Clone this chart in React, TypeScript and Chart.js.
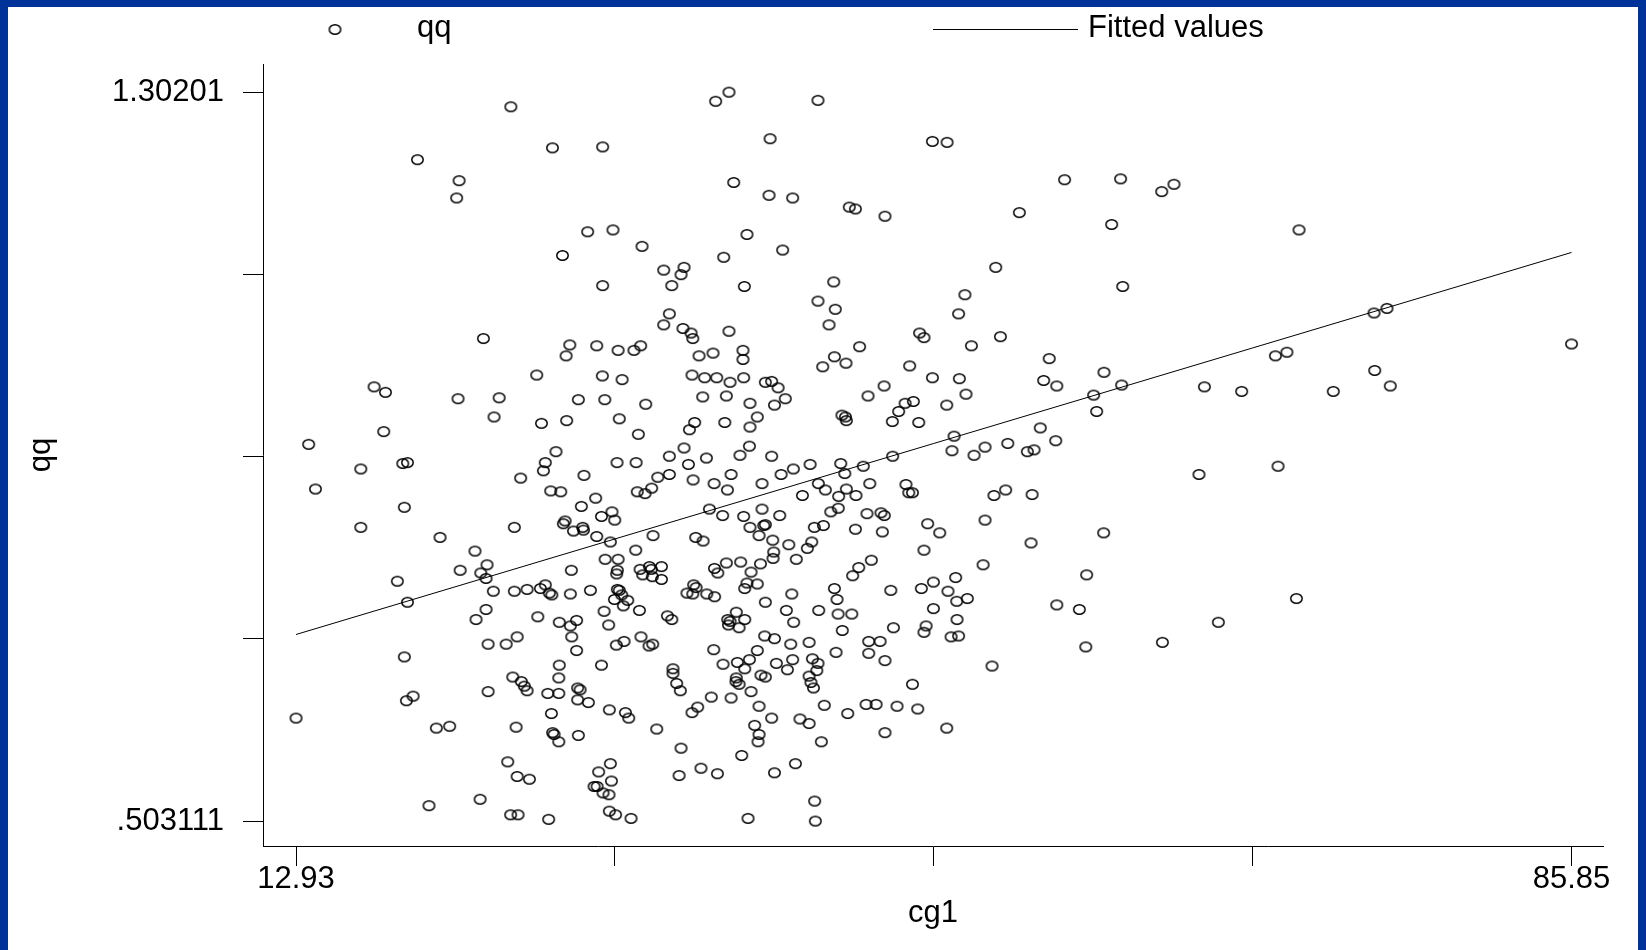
import React, { useEffect, useRef } from "react";
import { Chart, registerables } from "chart.js";

Chart.register(...registerables);

// ---- data ----
const cg1 = [
  // upper left
  25.21, 19.87, 22.25, 22.11, 27.59, 30.46, 29.6, 31.05, 32.71, 28.16, 33.95, 35.11, 34.94, 34.41, 30.46, 34.27,
  // upper middle
  36.92, 37.68, 42.77, 40.03, 49.31, 50.15, 37.95, 39.97, 41.32, 44.56, 44.91, 46.6, 54.28, 56.87, 60.07, 59.56,
  38.71, 37.38, 40.75, 52.93, 60.19, 38.56, 43.67, 42.77, 43.76, 51.17, 50.81,
  // upper right
  62.42, 63.12, 70.27, 74.56, 75.3,
  // middle left
  33.95, 35.05, 35.51, 35.61, 23.64, 28.58, 28.37, 30.12, 31.34, 32.25, 32.63, 35.97, 26.69, 30.44, 31.57, 35.57,
  36.29, 17.39, 18.04, 22.19, 24.54, 24.25, 29.07, 30.58, 32.92, 36.18, 17.94, 26.96, 28.4, 31.41, 32.5, 35.72,
  35.42, 13.65, 27.79, 27.18, 27.07, 16.63, 19.03, 19.3, 31.28, 32.37, 34.27, 35.11, 35.36, 14.04, 25.77, 29.39,
  27.49, 28.06, 32.44, 32.88, 33.26, 33.61, 34.27, 35.63, 19.12, 30.06, 29.24, 16.63, 25.41, 21.16, 28.31, 28.21,
  28.79, 29.32, 29.36, 30.39, 30.99, 31.15, 30.12, 30.9, 33.34, 35.78, 36.2, 23.16, 23.85, 22.31, 23.49, 23.79,
  32.35, 28.67, 30.6, 31.34, 31.3, 31.26, 32.6, 33.13, 33.24, 33.82, 32.75, 33.3, 33.82,
  // middle
  37.68, 43.4, 48.58, 48.83, 53.2, 36.77, 38.48, 38.48, 45.15, 51.54, 36.98, 43.04, 43.71, 44.37, 48.01, 55.99,
  59.12, 37.74, 38.52, 39.76, 40.12, 40.49, 40.9, 40.28, 37.53, 38.88, 39.3, 37.44, 38.88, 45.63, 46.55, 49.31,
  50.85, 51.23, 50.13, 55.67, 56.42, 58.53, 60.13, 58.7, 44.14, 44.34, 44.39, 47.38, 47.75, 48.22, 47.02, 48.53,
  55.48, 50.55, 50.43, 51.69, 52.32, 53.62, 54.74, 55.12, 56.36, 36.39, 38.31, 38.85, 40.12, 37.8, 36.83, 37.59,
  39.57, 40.66, 41.36, 42.32, 44.07, 44.3, 45.36, 47.04, 42.79, 43.19, 44.39, 43.95, 44.94, 45.73, 41.88, 47.8,
  47.96, 48.17, 52.83, 53.5, 55.01, 36.56, 37.32, 38.52, 39.57, 40.58, 38.88, 39.76, 39.67, 39.4, 43.5, 43.93,
  42.56, 43.08, 45.57, 46.37, 46.56, 44.91, 46.45, 49.04, 49.73, 52.32, 59.1, 40.18, 41.1, 42.41, 42.16, 40.24,
  40.2, 41.53, 45.82, 45.1, 44.75, 48.83, 54.95, 52.21, 58.13, 37.53, 38.35, 39.48, 36.85, 37.04, 38.94, 50.64,
  // middle right
  68.92, 69.58, 64.86, 66.99, 72.23, 74.6, 75.49, 85.85, 64.55, 69.07,
  // lower left
  18.72, 24.21, 25.41, 26.14, 26.9, 27.18, 27.41, 27.55, 28.61, 29.76, 31.3, 31.41, 31.55, 31.13, 31.89, 31.64,
  32.56, 30.54, 30.8, 35.66, 35.8, 35.28, 35.61, 19.3, 23.79, 23.22, 26.75, 27.98, 28.61, 28.97, 34.16, 34.41,
  23.91, 24.94, 25.57, 28.69, 28.97, 31.24, 31.68, 32.65, 33.11, 33.32, 19.12, 27.98, 27.95, 30.39, 34.48, 34.48,
  34.69, 34.9, 25.32, 25.81, 25.98, 26.14, 23.91, 27.32, 27.95, 29.03, 29.17, 29.03, 29.64, 19.24, 19.62, 30.84,
  31.76, 31.95, 33.55, 35.57, 35.89, 12.93, 20.95, 21.71, 25.51, 27.53, 27.6, 27.68, 27.95, 29.07, 34.94, 25.03,
  25.57, 26.27, 30.9, 30.23, 30.96, 29.97, 30.14, 30.48, 30.82, 34.83, 36.08, 20.53, 23.45, 25.2, 25.62, 27.37,
  30.84, 31.2, 32.08,
  // lower middle
  38.71, 39.3, 38.58, 36.41, 36.86, 41.27, 39.76, 40.96, 41.38, 42.81, 43.71, 43.86, 43.92, 44.7, 44.16, 46.93,
  48.68, 49.37, 50.2, 50.7, 51.31, 49.37, 47.08, 48.95, 48.83, 50.72, 50.38, 50.81, 56.42, 57.71, 58.08, 38.1,
  37.61, 37.74, 37.65, 38.26, 38.58, 39.72, 40.28, 41.21, 42.26, 36.81, 39.3, 43.8, 45.67, 46.32, 45.67, 46.6,
  37.34, 38.16, 38.85, 38.58, 40.39, 41.32, 41.02, 42.45, 42.77, 42.7, 42.26, 42.37, 42.51, 39.51, 39.76, 38.1,
  38.08, 38.26, 38.94, 36.67, 37.8, 39.4, 40.12, 41.74, 42.26, 43.13, 44.47, 45.52, 46.09, 47.29, 48.47, 48.17,
  52.72, 39.15, 39.4, 39.34, 42.96, 46.6, 50.13, 38.41, 37.02, 40.28, 41.48, 42.58, 38.77, 42.62,
  // lower right
  70.12, 65.66, 62.46,
];

const qq = [
  // upper left
  1.286, 1.228, 1.205, 1.186, 1.241, 1.242, 1.149, 1.151, 1.133, 1.123, 1.107, 1.11, 1.102, 1.09, 1.09, 1.059,
  // upper middle
  1.292, 1.30201, 1.293, 1.251, 1.248, 1.247, 1.203, 1.189, 1.186, 1.176, 1.174, 1.166, 1.17, 1.206, 1.207, 1.157,
  1.146, 1.121, 1.129, 1.11, 1.089, 1.089, 1.094, 1.073, 1.064, 1.08, 1.059,
  // upper right
  1.193, 1.201, 1.151, 1.06, 1.065,
  // middle left
  1.047, 1.043, 1.038, 1.032, 1.032, 1.025, 1.013, 1.024, 1.019, 1.019, 1.024, 1.013, 0.992, 0.991, 0.987, 0.992,
  0.989, 0.979, 0.973, 0.966, 0.967, 0.946, 0.965, 0.965, 0.96, 0.968, 0.93, 0.939, 0.942, 0.944, 0.927, 0.94,
  0.932, 0.916, 0.908, 0.896, 0.887, 0.889, 0.895, 0.896, 0.896, 0.896, 0.903, 0.912, 0.894, 0.867, 0.879, 0.882,
  0.865, 0.864, 0.864, 0.862, 0.868, 0.88, 0.883, 0.877, 0.847, 0.857, 0.848, 0.825, 0.825, 0.814, 0.832, 0.829,
  0.821, 0.825, 0.822, 0.837, 0.842, 0.833, 0.815, 0.809, 0.816, 0.814, 0.81, 0.799, 0.784, 0.778, 0.775, 0.769,
  0.8, 0.778, 0.79, 0.79, 0.778, 0.774, 0.779, 0.782, 0.779, 0.782, 0.773, 0.771, 0.768,
  // middle
  1.04, 1.047, 1.038, 1.033, 1.034, 1.016, 1.019, 1.009, 1.023, 1.024, 0.989, 1.001, 1.012, 1.005, 1.002, 1.01,
  0.995, 0.984, 0.989, 0.984, 0.985, 0.978, 0.966, 0.959, 0.969, 0.961, 0.946, 0.94, 0.935, 0.969, 0.98, 0.989,
  0.988, 0.971, 0.959, 0.986, 0.98, 0.97, 0.981, 0.952, 0.948, 0.946, 0.942, 0.952, 0.961, 0.963, 0.941, 0.94,
  0.934, 0.925, 0.909, 0.904, 0.913, 0.917, 0.908, 0.91, 0.92, 0.901, 0.904, 0.914, 0.903, 0.883, 0.873, 0.866,
  0.873, 0.883, 0.889, 0.894, 0.895, 0.884, 0.892, 0.903, 0.873, 0.866, 0.867, 0.859, 0.86, 0.873, 0.86, 0.872,
  0.863, 0.863, 0.86, 0.866, 0.861, 0.845, 0.838, 0.837, 0.845, 0.838, 0.825, 0.828, 0.827, 0.816, 0.842, 0.846,
  0.825, 0.827, 0.84, 0.841, 0.838, 0.823, 0.82, 0.829, 0.819, 0.833, 0.819, 0.811, 0.806, 0.809, 0.802, 0.798,
  0.791, 0.79, 0.789, 0.781, 0.772, 0.8, 0.808, 0.784, 0.773, 0.786, 0.787, 0.785, 0.78, 0.775, 0.776, 0.77,
  // middle right
  1.013, 1.017, 0.979, 0.974, 0.974, 0.997, 0.98, 1.026, 0.883, 0.892,
  // lower left
  0.766, 0.755, 0.755, 0.757, 0.758, 0.762, 0.753, 0.751, 0.752, 0.756, 0.757, 0.756, 0.751, 0.746, 0.745, 0.739,
  0.734, 0.733, 0.718, 0.762, 0.759, 0.753, 0.752, 0.743, 0.735, 0.724, 0.727, 0.721, 0.717, 0.723, 0.728, 0.724,
  0.697, 0.697, 0.705, 0.705, 0.69, 0.696, 0.7, 0.705, 0.695, 0.697, 0.683, 0.674, 0.66, 0.674, 0.67, 0.665,
  0.654, 0.646, 0.661, 0.656, 0.651, 0.646, 0.645, 0.643, 0.643, 0.649, 0.647, 0.636, 0.633, 0.635, 0.64, 0.625,
  0.622, 0.616, 0.604, 0.622, 0.628, 0.616, 0.605, 0.607, 0.606, 0.621, 0.6, 0.598, 0.59, 0.597, 0.583, 0.568,
  0.552, 0.549, 0.566, 0.557, 0.547, 0.541, 0.541, 0.534, 0.532, 0.553, 0.561, 0.52, 0.527, 0.51, 0.51, 0.505,
  0.514, 0.51, 0.506,
  // lower middle
  0.764, 0.763, 0.758, 0.752, 0.749, 0.752, 0.743, 0.734, 0.721, 0.734, 0.758, 0.746, 0.73, 0.73, 0.712, 0.756,
  0.758, 0.765, 0.755, 0.744, 0.747, 0.736, 0.715, 0.717, 0.71, 0.724, 0.705, 0.706, 0.74, 0.735, 0.694, 0.732,
  0.724, 0.722, 0.718, 0.715, 0.724, 0.706, 0.703, 0.697, 0.699, 0.691, 0.69, 0.688, 0.7, 0.7, 0.687, 0.679,
  0.675, 0.677, 0.68, 0.67, 0.676, 0.68, 0.669, 0.681, 0.676, 0.668, 0.662, 0.655, 0.649, 0.663, 0.661, 0.66,
  0.656, 0.653, 0.645, 0.639, 0.638, 0.629, 0.616, 0.615, 0.61, 0.63, 0.621, 0.631, 0.631, 0.629, 0.626, 0.653,
  0.673, 0.608, 0.598, 0.59, 0.59, 0.6, 0.605, 0.575, 0.555, 0.556, 0.566, 0.525, 0.506, 0.503111,
  // lower right
  0.747, 0.721, 0.699,
];

// fitted line, read at both ends of the x range
const fitX = [12.93, 85.85];
const fitY = [0.7076, 1.1263];

const xTicks = [12.93, 31.16, 49.39, 67.62, 85.85];
const xTickLabels = ["12.93", "", "", "", "85.85"];
const yTicks = [0.503111, 0.702836, 0.90256, 1.102285, 1.30201];
const yTickLabels = [".503111", "", "", "", "1.30201"];
const legendLabels = ["qq", "Fitted values"];
const xTitle = "cg1";
const yTitle = "qq";

const W = 1646;
const H = 950;
const FONT = "'Liberation Sans', Arial, Helvetica, sans-serif";
const FS = 31;

function makeMarker(): HTMLCanvasElement {
  const c = document.createElement("canvas");
  c.width = 15;
  c.height = 13;
  const g = c.getContext("2d")!;
  g.strokeStyle = "#000";
  g.lineWidth = 1.5;
  g.beginPath();
  g.ellipse(7.5, 6.5, 5.7, 4.7, 0, 0, Math.PI * 2);
  g.stroke();
  return c;
}

export default function App() {
  const ref = useRef<HTMLCanvasElement | null>(null);

  useEffect(() => {
    document.body.style.margin = "0";
    document.body.style.overflow = "hidden";
    const canvas = ref.current;
    if (!canvas) return;
    const marker = makeMarker();

    const frame = {
      id: "frame",
      beforeDraw(chart: any) {
        const ctx = chart.ctx;
        ctx.save();
        ctx.fillStyle = "#003399";
        ctx.fillRect(0, 0, W, H);
        ctx.fillStyle = "#ffffff";
        ctx.fillRect(8, 7, W - 16, H - 7);
        ctx.restore();
      },
    };

    const legend = {
      id: "stataLegend",
      afterDraw(chart: any) {
        const ctx = chart.ctx;
        ctx.save();
        ctx.drawImage(marker, 335 - marker.width / 2, 29.5 - marker.height / 2);
        ctx.strokeStyle = "#000";
        ctx.lineWidth = 1;
        ctx.beginPath();
        ctx.moveTo(933, 29.5);
        ctx.lineTo(1078, 29.5);
        ctx.stroke();
        ctx.fillStyle = "#000";
        ctx.font = `${FS}px ${FONT}`;
        ctx.textBaseline = "alphabetic";
        ctx.textAlign = "left";
        ctx.fillText(legendLabels[0], 417, 37);
        ctx.fillText(legendLabels[1], 1088, 37);
        ctx.restore();
      },
    };

    const scatterData = cg1.map((x, i) => ({ x, y: qq[i] }));
    const fitData = fitX.map((x, i) => ({ x, y: fitY[i] }));

    const chart = new Chart(canvas, {
      type: "scatter",
      data: {
        datasets: [
          {
            label: legendLabels[1],
            data: fitData,
            showLine: true,
            borderColor: "#000",
            borderWidth: 1,
            pointRadius: 0,
            pointHoverRadius: 0,
            tension: 0,
            fill: false,
          } as any,
          {
            label: legendLabels[0],
            data: scatterData,
            pointStyle: marker as any,
            pointRadius: 5,
            pointHoverRadius: 5,
            borderColor: "#000",
            backgroundColor: "transparent",
            showLine: false,
          } as any,
        ],
      },
      options: {
        responsive: false,
        animation: false,
        devicePixelRatio: 1,
        events: [],
        layout: { padding: { top: 64, left: 0, right: 43, bottom: 0 } },
        plugins: {
          legend: { display: false },
          tooltip: { enabled: false },
        },
        scales: {
          x: {
            type: "linear",
            position: "bottom",
            min: 11.04,
            max: 87.65,
            afterBuildTicks: (s: any) => {
              s.ticks = xTicks.map((v) => ({ value: v }));
            },
            afterFit: (s: any) => {
              s.height = 104;
            },
            ticks: {
              autoSkip: false,
              maxRotation: 0,
              minRotation: 0,
              padding: 0,
              color: "#000",
              font: { family: FONT, size: FS, lineHeight: 0.9 },
              callback: (_v: any, i: number) => xTickLabels[i],
            },
            grid: {
              drawOnChartArea: false,
              drawTicks: true,
              tickLength: 20,
              tickColor: "#000",
              tickWidth: 1,
            },
            border: { display: true, color: "#000", width: 1 },
            title: {
              display: true,
              text: xTitle,
              color: "#000",
              font: { family: FONT, size: FS },
              padding: { top: 0, bottom: 18 },
            },
          },
          y: {
            type: "linear",
            position: "left",
            min: 0.47578,
            max: 1.33286,
            afterBuildTicks: (s: any) => {
              s.ticks = yTicks.map((v) => ({ value: v }));
            },
            afterFit: (s: any) => {
              s.width = 263;
            },
            ticks: {
              autoSkip: false,
              padding: 19,
              color: "#000",
              crossAlign: "near",
              font: { family: FONT, size: FS },
              callback: (_v: any, i: number) => yTickLabels[i],
            },
            grid: {
              drawOnChartArea: false,
              drawTicks: true,
              tickLength: 20,
              tickColor: "#000",
              tickWidth: 1,
            },
            border: { display: true, color: "#000", width: 1 },
            title: {
              display: true,
              text: yTitle,
              color: "#000",
              font: { family: FONT, size: FS },
              padding: { top: 23, bottom: 0 },
            },
          },
        },
      },
      plugins: [frame, legend],
    } as any);

    return () => {
      chart.destroy();
    };
  }, []);

  return (
    <div style={{ width: W, height: H, overflow: "hidden" }}>
      <canvas ref={ref} width={W} height={H} style={{ display: "block", width: W, height: H }} />
    </div>
  );
}
